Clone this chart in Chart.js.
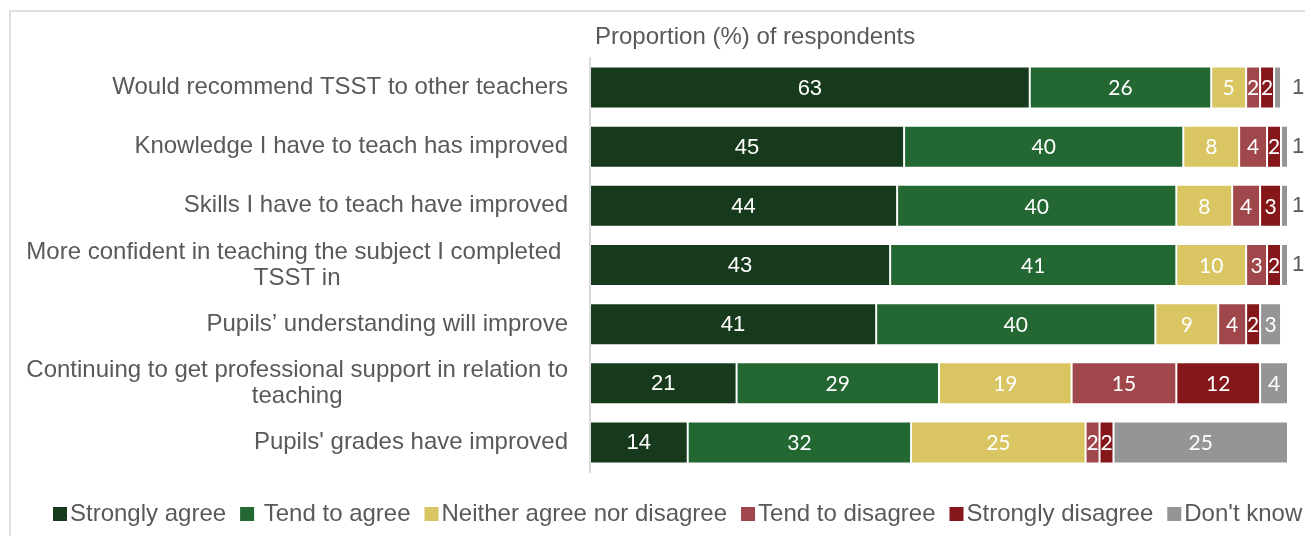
<!DOCTYPE html>
<html>
<head>
<meta charset="utf-8">
<script src="https://cdn.jsdelivr.net/npm/chart.js@4.4.1/dist/chart.umd.min.js"></script>
<style>
  html, body { margin: 0; padding: 0; background: #fff; }
  #wrap { width: 1305px; height: 536px; }
</style>
</head>
<body>
<div id="wrap"><canvas id="survey"></canvas></div>
<script>
// statements (multi-line ones are split the way the original wraps them)
let statements = [
    ["Would recommend TSST to other teachers"],
    ["Knowledge I have to teach has improved"],
    ["Skills I have to teach have improved"],
    ["More confident in teaching the subject I completed ", "TSST in"],
    ["Pupils\u2019 understanding will improve"],
    ["Continuing to get professional support in relation to", "teaching"],
    ["Pupils' grades have improved"]
];
let stronglyAgree    = [63, 45, 44, 43, 41, 21, 14];
let tendToAgree      = [26, 40, 40, 41, 40, 29, 32];
let neither          = [5, 8, 8, 10, 9, 19, 25];
let tendToDisagree   = [2, 4, 4, 3, 4, 15, 2];
let stronglyDisagree = [2, 2, 3, 2, 2, 12, 2];
let dontKnow         = [1, 1, 1, 1, 3, 4, 25];

let seriesNames  = ["Strongly agree", " Tend to agree", "Neither agree nor disagree", "Tend to disagree", "Strongly disagree", "Don't know"];
let seriesValues = [stronglyAgree, tendToAgree, neither, tendToDisagree, stronglyDisagree, dontKnow];
let seriesColors = ["#173a1c", "#236733", "#d9c562", "#a0474c", "#85161a", "#959595"];

let grey = "#595959";
let armFont = '"Liberation Sans", Arial, sans-serif';
let calFont = 'Lato, "Open Sans", sans-serif';

// frame, title, category labels, value labels and legend
let drawExtras = {
    id: 'drawExtras',
    beforeDraw(chart) {
        let ctx = chart.ctx;
        ctx.save();
        ctx.strokeStyle = "#dedede";
        ctx.lineWidth = 2;
        ctx.strokeRect(10, 11, 1400, 600);
        ctx.restore();
    },
    afterDraw(chart) {
        let ctx = chart.ctx;
        let area = chart.chartArea;
        let yScale = chart.scales.y;
        ctx.save();

        ctx.fillStyle = grey;
        ctx.font = '24px ' + armFont;
        ctx.textBaseline = 'middle';
        ctx.textAlign = 'left';
        ctx.fillText("Proportion (%) of respondents", area.left + 5, 37);

        // category labels: block right-aligned, lines centred inside it
        ctx.font = '24px ' + armFont;
        ctx.textAlign = 'center';
        statements.forEach((lines, i) => {
            let y = yScale.getPixelForValue(i);
            let w = Math.max(...lines.map(l => ctx.measureText(l).width));
            let cx = area.left - 22 - w / 2;
            let lh = 26;
            lines.forEach((l, k) => {
                ctx.fillText(l, cx, y + (k - (lines.length - 1) / 2) * lh);
            });
        });

        // value labels
        chart.data.datasets.forEach((ds, d) => {
            let meta = chart.getDatasetMeta(d);
            meta.data.forEach((bar, i) => {
                let v = ds.data[i];
                ctx.font = d === 0 ? '22px ' + armFont : '21px ' + calFont;
                if (v <= 1) {
                    ctx.fillStyle = grey;
                    ctx.font = '22px ' + armFont;
                    ctx.fillText(String(v), Math.min(bar.x + 18, 1298), bar.y);
                } else {
                    ctx.fillStyle = "#ffffff";
                    ctx.fillText(String(v), (bar.x + bar.base) / 2, bar.y + 1);
                }
            });
        });

        // legend
        ctx.font = '24px ' + armFont;
        ctx.textAlign = 'left';
        let lx = 53;
        let ly = 514;
        chart.data.datasets.forEach(ds => {
            ctx.fillStyle = ds.backgroundColor;
            ctx.fillRect(lx, ly - 7, 14, 14);
            ctx.fillStyle = grey;
            ctx.fillText(ds.label, lx + 17, ly);
            lx += 17 + ctx.measureText(ds.label).width + 14;
        });
        ctx.restore();
    }
};

let datasets = seriesNames.map((name, k) => ({
    label: name,
    data: seriesValues[k],
    backgroundColor: seriesColors[k],
    borderColor: "rgba(255,255,255,0.3)",
    borderWidth: 1,
    borderSkipped: false,
    barPercentage: 0.71,
    categoryPercentage: 1
}));

new Chart(document.getElementById('survey').getContext('2d'), {
    type: 'bar',
    data: {
        labels: statements.map(l => l.join(' ')),
        datasets: datasets
    },
    options: {
        indexAxis: 'y',
        responsive: true,
        maintainAspectRatio: false,
        animation: false,
        layout: { padding: { left: 10, right: 17, top: 58, bottom: 0 } },
        scales: {
            x: {
                stacked: true,
                min: 0,
                max: 100,
                ticks: { display: false },
                grid: { display: false },
                border: { display: false },
                afterFit: s => { s.height = 64; }
            },
            y: {
                stacked: true,
                ticks: { display: false },
                grid: { display: false },
                border: { display: true, color: "#d9d9d9", width: 2 },
                afterFit: s => { s.width = 580; }
            }
        },
        plugins: {
            legend: { display: false },
            tooltip: { enabled: false }
        }
    },
    plugins: [drawExtras]
});
</script>
</body>
</html>
